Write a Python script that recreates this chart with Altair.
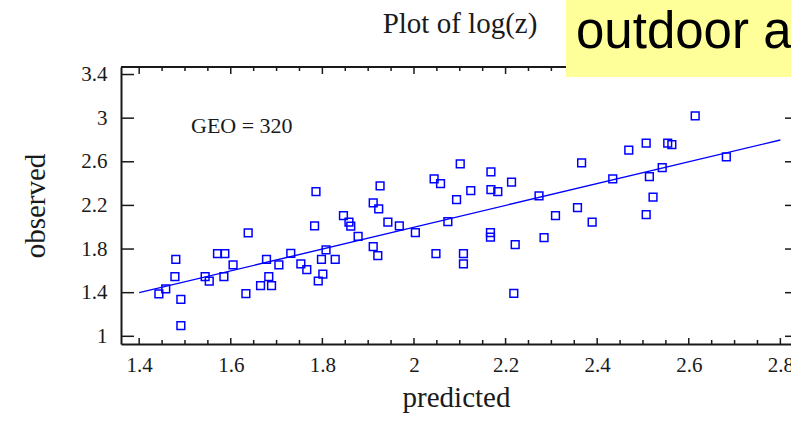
import altair as alt
import pandas as pd

# Predicted vs observed log(z) values
predicted = [
    1.443, 1.458, 1.480, 1.478, 1.491, 1.491, 1.544, 1.553, 1.571, 1.587,
    1.585, 1.605, 1.638, 1.633, 1.678, 1.683, 1.665, 1.689, 1.705, 1.731,
    1.753, 1.766, 1.786, 1.783, 1.801, 1.791, 1.798, 1.808, 1.828, 1.846,
    1.858, 1.862, 1.878, 1.911, 1.923, 1.926, 1.911, 1.921, 1.943, 1.968,
    2.003, 2.044, 2.058, 2.101, 2.093, 2.124, 2.074, 2.048, 2.108, 2.108,
    2.168, 2.168, 2.183, 2.213, 2.167, 2.167, 2.221, 2.218, 2.273, 2.309,
    2.284, 2.357, 2.389, 2.366, 2.434, 2.469, 2.507, 2.514, 2.542, 2.554,
    2.563, 2.522, 2.507, 2.614, 2.682,
]
observed = [
    1.390, 1.434, 1.706, 1.547, 1.339, 1.097, 1.547, 1.505, 1.758, 1.758,
    1.547, 1.654, 1.948, 1.391, 1.706, 1.547, 1.464, 1.464, 1.654, 1.761,
    1.663, 1.611, 2.327, 2.012, 1.569, 1.507, 1.706, 1.792, 1.706, 2.106,
    2.046, 2.009, 1.917, 2.223, 2.168, 2.379, 1.822, 1.739, 2.046, 2.012,
    1.951, 2.443, 2.400, 2.581, 2.253, 2.336, 2.051, 1.758, 1.758, 1.663,
    2.507, 2.345, 2.327, 2.413, 1.950, 1.910, 1.840, 1.394, 2.287, 2.106,
    1.905, 2.180, 2.046, 2.590, 2.443, 2.706, 2.771, 2.464, 2.547, 2.771,
    2.758, 2.276, 2.116, 3.021, 2.644,
]

# Reference line observed = predicted
line_x = [1.4, 2.8]
line_y = [1.4, 2.8]

# Axis tick values
x_major = [1.4, 1.6, 1.8, 2.0, 2.2, 2.4, 2.6, 2.8]
x_minor = [1.45, 1.5, 1.55, 1.65, 1.7, 1.75, 1.85, 1.9, 1.95, 2.05, 2.1, 2.15,
           2.25, 2.3, 2.35, 2.45, 2.5, 2.55, 2.65, 2.7, 2.75]
y_major = [1.0, 1.4, 1.8, 2.2, 2.6, 3.0, 3.4]

W, H = 670, 277
SERIF = "Liberation Serif"
BLUE = "#0000ff"
INK = "#1a1a1a"

xs = alt.Scale(domain=[1.3603, 2.8232], nice=False, zero=False)
ys = alt.Scale(domain=[0.9294, 3.469], nice=False, zero=False)

pts = pd.DataFrame({"predicted": predicted, "observed": observed})
fit = pd.DataFrame({"predicted": line_x, "observed": line_y})
xmaj = pd.DataFrame({"v": x_major})
xmin = pd.DataFrame({"v": x_minor})
ymaj = pd.DataFrame({"v": y_major})
one = pd.DataFrame({"k": [0]})  # single row for annotations

x_axis = alt.Axis(
    values=x_major, format="~g", ticks=False, tickSize=0, grid=False,
    domain=True, domainColor=INK, domainWidth=2,
    labelFont=SERIF, labelFontSize=21, labelColor=INK, labelPadding=10,
    title="predicted", titleFont=SERIF, titleFontSize=29,
    titleFontWeight="normal", titleColor=INK, titlePadding=8,
)
y_axis = alt.Axis(
    values=y_major, format="~g", ticks=False, tickSize=0, grid=False,
    domain=True, domainColor=INK, domainWidth=2,
    labelFont=SERIF, labelFontSize=21, labelColor=INK, labelPadding=14,
    title="observed", titleFont=SERIF, titleFontSize=29,
    titleFontWeight="normal", titleColor=INK, titlePadding=30,
)

points = alt.Chart(pts).mark_point(
    shape="square", filled=False, size=60, color=BLUE, strokeWidth=1.5,
    opacity=1,
).encode(
    x=alt.X("predicted:Q", scale=xs, axis=x_axis),
    y=alt.Y("observed:Q", scale=ys, axis=y_axis),
)

fit_line = alt.Chart(fit).mark_line(color=BLUE, strokeWidth=1.4).encode(
    x=alt.X("predicted:Q", scale=xs),
    y=alt.Y("observed:Q", scale=ys),
)

# Frame top edge
top_edge = alt.Chart(one).mark_rule(color=INK, strokeWidth=2).encode(
    x=alt.value(0), x2=alt.value(W), y=alt.value(0)
)

# Inward ticks on the bottom and top edges
bot_major = alt.Chart(xmaj).mark_rule(color=INK, strokeWidth=1.5).encode(
    x=alt.X("v:Q", scale=xs), y=alt.value(H), y2=alt.value(H - 6)
)
bot_minor = alt.Chart(xmin).mark_rule(color=INK, strokeWidth=1.5).encode(
    x=alt.X("v:Q", scale=xs), y=alt.value(H), y2=alt.value(H - 4)
)
top_major = alt.Chart(xmaj).mark_rule(color=INK, strokeWidth=1.5).encode(
    x=alt.X("v:Q", scale=xs), y=alt.value(0), y2=alt.value(7)
)
top_minor = alt.Chart(xmin).mark_rule(color=INK, strokeWidth=1.5).encode(
    x=alt.X("v:Q", scale=xs), y=alt.value(0), y2=alt.value(4)
)

# Inward ticks on the left and right edges
left_ticks = alt.Chart(ymaj).mark_rule(color=INK, strokeWidth=1.5).encode(
    y=alt.Y("v:Q", scale=ys), x=alt.value(0), x2=alt.value(13)
)
right_ticks = alt.Chart(ymaj).mark_rule(color=INK, strokeWidth=1.5).encode(
    y=alt.Y("v:Q", scale=ys), x=alt.value(W - 6), x2=alt.value(W)
)

geo = alt.Chart(one).mark_text(
    text="GEO = 320", font=SERIF, fontSize=22, color=INK,
    align="left", baseline="alphabetic",
).encode(x=alt.value(70), y=alt.value(66))

plot_title = alt.Chart(one).mark_text(
    text="Plot of log(z)", font=SERIF, fontSize=29, color=INK,
    align="center", baseline="alphabetic",
).encode(x=alt.value(339), y=alt.value(-34))

banner = alt.Chart(one).mark_rect(color="#ffff99").encode(
    x=alt.value(445), x2=alt.value(W + 20), y=alt.value(-67), y2=alt.value(10)
)
banner_text = alt.Chart(one).mark_text(
    text="outdoor a", font="Liberation Sans", fontSize=51, color="#000000",
    align="left", baseline="alphabetic",
).encode(x=alt.value(455), y=alt.value(-19))

chart = alt.layer(
    fit_line, points, top_edge, bot_major, bot_minor, top_major, top_minor,
    left_ticks, right_ticks, geo, plot_title, banner, banner_text,
).properties(
    width=W, height=H,
    autosize=alt.AutoSizeParams(type="none"),
    padding={"left": 121, "top": 67, "right": 0, "bottom": 77},
).configure_view(stroke=None).configure(background="white")

chart.save("out.html", embed_options={"renderer": "svg", "actions": False})
